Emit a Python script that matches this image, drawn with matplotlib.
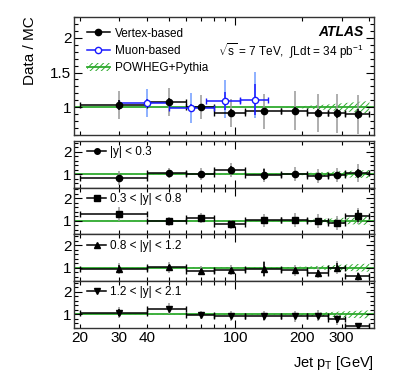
import numpy as np
import matplotlib
matplotlib.use('Agg')
from matplotlib import pyplot as plt
from matplotlib.lines import Line2D
from matplotlib.patches import Patch
from matplotlib.ticker import FixedLocator, FuncFormatter, NullFormatter, MultipleLocator

plt.rcParams['font.family'] = ['Liberation Sans', 'DejaVu Sans']
plt.rcParams['mathtext.fontset'] = 'custom'
plt.rcParams['mathtext.rm'] = 'Liberation Sans'
plt.rcParams['mathtext.it'] = 'Liberation Sans:italic'
plt.rcParams['hatch.linewidth'] = 0.7

# jet pT bins [GeV]
bin_lo = [20, 40, 60, 80, 110, 160, 210, 260, 310]
bin_hi = [40, 60, 80, 110, 160, 210, 260, 310, 400]
pt = [30, 50, 70, 95, 135, 185, 235, 285, 355]

# top panel: vertex-based
vtx_ratio = [1.03, 1.08, 1.00, 0.92, 0.94, 0.95, 0.92, 0.91, 0.90]
vtx_stat = [0.07, 0.06, 0.05, 0.05, 0.05, 0.05, 0.06, 0.06, 0.07]
vtx_syst = [0.20, 0.20, 0.17, 0.20, 0.25, 0.28, 0.27, 0.28, 0.28]

# top panel: muon-based
mu_pt = [40, 63, 90, 122]
mu_lo = [30, 50, 74, 105]
mu_hi = [50, 80, 105, 140]
mu_ratio = [1.06, 0.99, 1.09, 1.11]
mu_stat = [0.06, 0.06, 0.13, 0.22]
mu_syst_up = [0.20, 0.22, 0.30, 0.40]
mu_syst_dn = [0.20, 0.22, 0.25, 0.27]

# MC band half width (at bin edges)
band_pt = [20, 160, 210, 260, 310, 400]
band_top = [0.0, 0.0, 0.02, 0.04, 0.06, 0.09]
band_low = [0.0, 0.02, 0.05, 0.10, 0.14, 0.18]

# rapidity bins
y_labels = ['|y| < 0.3', '0.3 < |y| < 0.8', '0.8 < |y| < 1.2', '1.2 < |y| < 2.1']
y_markers = ['o', 's', '^', 'v']
y_ratio = [
    [0.82, 1.05, 1.01, 1.19, 0.97, 1.00, 0.92, 0.97, 1.05],
    [1.30, 0.98, 1.15, 0.86, 1.02, 1.05, 1.00, 0.90, 1.22],
    [0.95, 1.02, 0.87, 0.91, 0.94, 0.88, 0.78, 1.00, 0.63],
    [1.07, 1.25, 0.97, 0.93, 0.92, 0.92, 0.95, 0.78, 0.48],
]
y_stat = [
    [0.12, 0.10, 0.10, 0.15, 0.25, 0.10, 0.10, 0.12, 0.20],
    [0.15, 0.08, 0.10, 0.08, 0.15, 0.10, 0.10, 0.12, 0.25],
    [0.15, 0.12, 0.08, 0.08, 0.30, 0.10, 0.10, 0.20, 0.12],
    [0.15, 0.12, 0.08, 0.08, 0.15, 0.10, 0.12, 0.15, 0.08],
]
y_syst = [
    [0.30, 0.23, 0.25, 0.30, 0.30, 0.30, 0.30, 0.30, 0.38],
    [0.30, 0.20, 0.22, 0.20, 0.28, 0.30, 0.30, 0.30, 0.35],
    [0.25, 0.25, 0.20, 0.22, 0.35, 0.25, 0.25, 0.30, 0.20],
    [0.25, 0.25, 0.18, 0.20, 0.22, 0.25, 0.25, 0.25, 0.12],
]

GREEN = '#2eaa2e'


def xerr(c, lo, hi):
    c = np.array(c)
    return [c - np.array(lo), np.array(hi) - c]


def style_axis(ax, ylim, ymaj, ymin, labels=False):
    ax.set_xscale('log')
    ax.set_xlim(18.8, 420)
    ax.set_ylim(*ylim)
    ax.xaxis.set_major_locator(FixedLocator([100]))
    ax.xaxis.set_minor_locator(FixedLocator([20, 30, 40, 50, 60, 70, 80, 90, 200, 300, 400]))
    if labels:
        ax.xaxis.set_major_formatter(FuncFormatter(lambda v, p: '%d' % v))
        ax.xaxis.set_minor_formatter(FuncFormatter(
            lambda v, p: '%d' % v if int(round(v)) in (20, 30, 40, 200, 300) else ''))
    else:
        ax.xaxis.set_major_formatter(NullFormatter())
        ax.xaxis.set_minor_formatter(NullFormatter())
    ax.yaxis.set_major_locator(FixedLocator(ymaj))
    ax.yaxis.set_minor_locator(MultipleLocator(ymin))
    ax.yaxis.set_major_formatter(FuncFormatter(lambda v, p: ('%g' % v)))
    ax.tick_params(which='both', direction='in', top=True, right=True, labelsize=11, width=0.8)
    ax.tick_params(which='major', length=6, pad=2)
    ax.tick_params(which='minor', length=3, pad=2)
    for s in ax.spines.values():
        s.set_linewidth(1.0)
        s.set_color('#333333')


def draw_mc(ax, half):
    ax.axhline(1.0, color=GREEN, lw=1.3, zorder=1)
    h = np.array(half)
    ax.fill_between(band_pt, 1 - h, 1 + h, facecolor='none', edgecolor=GREEN,
                    hatch='//////', linewidth=0, zorder=1)


def draw_points(ax, x, lo, hi, y, stat, syst, marker, ms, col='black', syscol='#999999',
                mfc=None, stat_col=None):
    ax.errorbar(x, y, yerr=syst, fmt='none', ecolor=syscol, elinewidth=1.1, capsize=0, zorder=2)
    ax.errorbar(x, y, xerr=xerr(x, lo, hi), fmt='none', ecolor=col, elinewidth=1.1,
                capsize=2, capthick=1.0, zorder=3)
    ax.errorbar(x, y, yerr=stat, fmt=marker, color=col, ms=ms,
                mfc=mfc if mfc else col, mec=col, mew=1.0,
                ecolor=stat_col if stat_col else col, elinewidth=1.1, capsize=0, zorder=4)


fig = plt.figure(figsize=(3.98, 3.82), dpi=100)

L, W = 0.186, 0.754
ax0 = fig.add_axes([L, 0.6466, W, 0.309])
style_axis(ax0, (0.6, 2.3), [1, 1.5, 2], 0.1)
draw_mc(ax0, band_top)
draw_points(ax0, pt, bin_lo, bin_hi, vtx_ratio, vtx_stat, vtx_syst, 'o', 4.5)
draw_points(ax0, mu_pt, mu_lo, mu_hi, mu_ratio, mu_stat, [mu_syst_dn, mu_syst_up], 'o', 4.5,
            col='#1a1aff', syscol='#6f9bff', mfc='white')

handles = [
    Line2D([], [], color='black', marker='o', ms=4.5, lw=1.1),
    Line2D([], [], color='#1a1aff', marker='o', ms=4.5, mfc='white', lw=1.1),
    (Patch(facecolor='none', edgecolor=GREEN, hatch='//////', linewidth=0),
     Line2D([], [], color=GREEN, lw=1.3)),
]
ax0.legend(handles, ['Vertex-based', 'Muon-based', 'POWHEG+Pythia'], loc='upper left',
           bbox_to_anchor=(0.02, 0.97), frameon=False, fontsize=8.5, handlelength=1.9,
           handletextpad=0.5, labelspacing=0.45, borderaxespad=0.2)
ax0.text(0.965, 0.875, 'ATLAS', transform=ax0.transAxes, ha='right', va='center',
         fontsize=10, fontweight='bold', fontstyle='italic')
ax0.text(0.965, 0.71, r'$\sqrt{\mathrm{s}}$ = 7 TeV,  $\int$Ldt = 34 pb$^{\mathregular{-1}}$',
         transform=ax0.transAxes, ha='right', va='center', fontsize=8.5)

low_top, low_bot = 0.631, 0.1414
h = (low_top - low_bot) / 4
for i in range(4):
    ax = fig.add_axes([L, low_top - (i + 1) * h, W, h])
    style_axis(ax, (0.4, 2.47), [1, 2], 0.2, labels=(i == 3))
    draw_mc(ax, band_low)
    ms = 5 if y_markers[i] == 's' else 4.5
    draw_points(ax, pt, bin_lo, bin_hi, y_ratio[i], y_stat[i], y_syst[i], y_markers[i], ms)
    hd = Line2D([], [], color='black', marker=y_markers[i], ms=ms - 0.5, lw=1.1)
    ax.legend([hd], [y_labels[i]], loc='upper left', bbox_to_anchor=(0.02, 1.04),
              frameon=False, fontsize=8.5, handlelength=1.6, handletextpad=0.3,
              borderaxespad=0.2)

fig.text(0.075, 0.958, 'Data / MC', rotation=90, ha='center', va='top', fontsize=11)
fig.text(0.94, 0.05, r'Jet p$_{\mathregular{T}}$ [GeV]', ha='right', va='center', fontsize=10.5)

fig.savefig('out.png', dpi=100)
